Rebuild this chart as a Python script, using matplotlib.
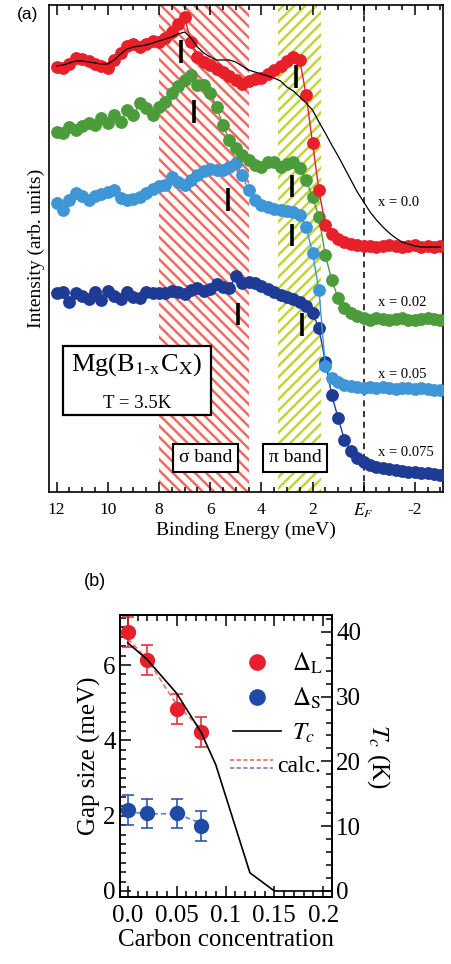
import numpy as np
import matplotlib
matplotlib.use('Agg')
import matplotlib.pyplot as plt
from matplotlib.ticker import MultipleLocator, FixedLocator
from matplotlib.legend_handler import HandlerBase
from matplotlib.lines import Line2D
from matplotlib.patches import Rectangle

plt.rcParams['font.family'] = ['Liberation Serif', 'DejaVu Serif']
plt.rcParams['mathtext.fontset'] = 'stix'
plt.rcParams['hatch.linewidth'] = 1.8
plt.rcParams['axes.unicode_minus'] = False

# ---------------- (a) ARPES spectra ----------------
energy = np.arange(12.0, -3.01, -0.25)   # binding energy grid (meV)

spec_x000 = [42.5, 42.4, 42.8, 43.4, 43.3, 43.1, 42.8, 42.6, 42.4, 43.2,
             43.9, 44.6, 44.8, 44.5, 44.8, 45.1, 45.0, 45.4, 46.0, 46.8,
             47.5, 45.0, 43.5, 43.0, 42.7, 42.3, 42.0, 41.6, 41.2, 40.8,
             41.1, 41.3, 41.4, 41.8, 42.2, 42.6, 43.1, 43.5, 43.2, 39.7,
             34.9, 30.2, 26.7, 25.8, 25.3, 25.0, 24.8, 24.7, 24.6, 24.6,
             24.5, 24.6, 24.7, 24.6, 24.5, 24.6, 24.7, 24.5, 24.6, 24.5,
             24.6]
spec_ref = [42.6, 42.7, 42.9, 43.1, 43.1, 43.0, 42.9, 42.8, 42.8, 43.2,
            43.8, 44.3, 44.5, 44.6, 44.7, 44.9, 45.1, 45.3, 45.5, 45.8,
            46.0, 45.4, 44.5, 43.9, 43.5, 43.2, 43.2, 43.2, 43.0, 42.6,
            42.2, 42.0, 41.8, 41.6, 41.4, 41.1, 40.5, 40.1, 39.5, 38.9,
            38.2, 37.0, 35.9, 34.7, 33.6, 32.4, 31.2, 30.0, 29.0, 28.0,
            27.2, 26.5, 25.9, 25.4, 25.0, 24.8, 24.6, 24.5, 24.5, 24.5,
            24.5]
spec_x002 = [36.0, 35.9, 36.5, 36.2, 36.6, 36.9, 36.7, 37.4, 36.9, 37.7,
             37.0, 38.2, 37.7, 38.9, 38.4, 37.7, 38.5, 39.0, 39.9, 40.6,
             41.2, 41.7, 40.7, 40.7, 39.9, 38.5, 36.7, 35.2, 34.4, 33.7,
             33.2, 32.7, 32.5, 33.0, 33.0, 32.5, 32.8, 33.0, 32.4, 31.2,
             29.5, 27.5, 23.7, 21.2, 19.4, 18.4, 17.9, 17.6, 17.4, 17.2,
             17.4, 17.3, 17.2, 17.3, 17.4, 17.2, 17.2, 17.3, 17.4, 17.3,
             17.2]
spec_x005 = [28.9, 28.2, 29.2, 29.9, 29.6, 29.2, 29.6, 29.8, 30.0, 30.2,
             29.4, 29.2, 29.3, 29.5, 29.9, 30.3, 30.6, 30.7, 31.5, 31.0,
             30.7, 31.2, 31.7, 32.1, 32.3, 32.2, 32.2, 32.5, 32.9, 31.7,
             30.2, 29.2, 28.7, 28.5, 28.3, 28.2, 28.1, 28.0, 27.7, 26.5,
             23.9, 20.2, 12.6, 11.4, 11.0, 10.7, 10.6, 10.5, 10.4, 10.5,
             10.4, 10.5, 10.4, 10.3, 10.4, 10.4, 10.3, 10.4, 10.3, 10.2,
             10.2]
spec_x0075 = [19.9, 20.0, 19.0, 19.9, 19.6, 19.3, 20.0, 19.2, 20.1, 19.6,
              19.3, 20.0, 19.5, 19.4, 20.0, 19.9, 19.9, 19.9, 20.1, 20.0,
              19.8, 20.2, 20.4, 20.1, 20.3, 20.8, 20.5, 20.4, 21.6, 20.9,
              21.0, 20.9, 20.6, 20.3, 20.0, 19.7, 19.5, 19.3, 19.0, 18.6,
              17.9, 16.4, 13.0, 9.7, 7.4, 5.2, 4.1, 3.4, 3.0, 2.7,
              2.5, 2.4, 2.3, 2.2, 2.1, 2.0, 2.0, 1.9, 1.9, 1.8,
              1.7]

spec_labels = ['x = 0.0', 'x = 0.02', 'x = 0.05', 'x = 0.075']
spec_colors = ['#e8202a', '#4c9c3c', '#3f96d6', '#1e3c96']
label_y = [28.9, 19.0, 11.8, 4.0]

# peak positions marked with bars (energy, intensity)
sigma_peak_E = [7.15, 6.64, 5.31, 4.92]
sigma_peak_I = [44.05, 38.1, 29.3, 17.8]
pi_peak_E = [2.66, 2.81, 2.81, 2.42]
pi_peak_I = [41.6, 30.6, 25.7, 16.8]

sigma_band = (8.0, 4.5)
pi_band = (3.35, 1.65)

xtick_pos = [12, 10, 8, 6, 4, 2, 0, -2]
xtick_labels = ['12', '10', '8', '6', '4', '2', r'$E_F$', '-2']

# ---------------- (b) gap size vs carbon ----------------
conc = [0.0, 0.02, 0.05, 0.075]
gap_L = [6.88, 6.14, 4.84, 4.23]
gap_L_err = [0.4, 0.4, 0.4, 0.4]
gap_S = [2.14, 2.06, 2.06, 1.72]
gap_S_err = [0.4, 0.38, 0.38, 0.4]
calc_L = [6.7, 6.15, 4.95, 4.3]
calc_S = [2.1, 2.05, 2.05, 1.8]
tc_conc = [0.0, 0.02, 0.05, 0.075, 0.09, 0.125, 0.15, 0.21]
tc_vals = [38.3, 35.7, 30.5, 24.5, 19.5, 2.8, 0.0, 0.0]

red_pt = '#e8202e'
blue_pt = '#1f4aa5'
red_calc = '#e86a6a'
blue_calc = '#6a7fc0'


class CalcHandler(HandlerBase):
    """two short dashed lines (red over blue) for the calc. entry"""
    def create_artists(self, legend, orig_handle, xdescent, ydescent,
                       width, height, fontsize, trans):
        arts = []
        for dy, c in ((0.7, red_calc), (0.2, blue_calc)):
            y = -ydescent + dy * height
            ln = Line2D([-xdescent, -xdescent + width], [y, y], color=c,
                        lw=1.2, ls=(0, (2.5, 1.5)), transform=trans)
            arts.append(ln)
        return arts


fig = plt.figure(figsize=(4.52, 9.64), dpi=100)

# ---- panel (a) ----
ax = fig.add_axes([49 / 452, 1 - 492 / 964, 394 / 452, 487 / 964])
ax.set_xlim(12.3, -3.1)
ax.set_ylim(0, 48.7)

ax.axvspan(*sigma_band, facecolor='none', edgecolor='#ef6a60',
           hatch='\\\\\\', lw=0, zorder=0)
ax.axvspan(*pi_band, facecolor='none', edgecolor='#c2d43c',
           hatch='///', lw=0, zorder=0)
ax.axvline(0, color='k', ls=(0, (4, 3)), lw=1.1, zorder=1)

spectra = [spec_x000, spec_x002, spec_x005, spec_x0075]
for k in range(3, -1, -1):
    ax.plot(energy, spectra[k], '-o', color=spec_colors[k], ms=8.2,
            lw=1.0, mec=spec_colors[k], zorder=3 + (3 - k))
ax.plot(energy, spec_ref, color='k', lw=0.9, zorder=8)

ax.vlines(sigma_peak_E, np.array(sigma_peak_I) - 1.15,
          np.array(sigma_peak_I) + 1.15, color='k', lw=2.6, zorder=9)
ax.vlines(pi_peak_E, np.array(pi_peak_I) - 1.15,
          np.array(pi_peak_I) + 1.15, color='k', lw=2.6, zorder=9)

for lab, yy in zip(spec_labels, label_y):
    ax.text(-0.55, yy, lab, fontsize=10.5, va='center', ha='left', zorder=10)

# sample box
ax.add_patch(Rectangle((5.98, 7.7), 5.78, 6.9, facecolor='white',
                       edgecolor='k', lw=1.6, zorder=10))
ax.text(8.87, 12.7, r'Mg(B$_{\mathrm{1\text{-}x}}$C$_{\mathrm{X}}$)',
        fontsize=19, ha='center', va='center', zorder=11)
ax.text(8.87, 8.9, 'T = 3.5K', fontsize=13.5, ha='center', va='center',
        zorder=11)

box = dict(boxstyle='square,pad=0.3', facecolor='white', edgecolor='k',
           lw=1.5)
ax.text(6.19, 3.4, 'σ band', fontsize=14, ha='center', va='center',
        bbox=box, zorder=11)
ax.text(2.68, 3.4, 'π band', fontsize=14, ha='center', va='center',
        bbox=box, zorder=11)

ax.xaxis.set_major_locator(FixedLocator(xtick_pos))
ax.set_xticklabels(xtick_labels)
ax.xaxis.set_minor_locator(MultipleLocator(0.5))
ax.tick_params(axis='x', which='both', direction='in', top=True,
               labelsize=12.5, pad=7, width=1.1)
ax.tick_params(axis='x', which='major', length=7)
ax.tick_params(axis='x', which='minor', length=3.6)
ax.set_yticks([])
for s in ax.spines.values():
    s.set_linewidth(1.2)
ax.set_xlabel('Binding Energy (meV)', fontsize=14, labelpad=1)
ax.set_ylabel('Intensity (arb. units)', fontsize=14, labelpad=3)

fig.text(28 / 452, 1 - 14 / 964, '(a)', family='Liberation Sans',
         fontsize=12.5, ha='center', va='center')

# ---- panel (b) ----
ax2 = fig.add_axes([120 / 452, 1 - 897 / 964, 212 / 452, 282 / 964])
axr = ax2.twinx()
ax2.set_xlim(-0.008, 0.209)
ax2.set_ylim(-0.16, 7.33)
axr.set_ylim(-0.93, 42.6)

ax2.plot(conc, calc_L, color=red_calc, lw=1.2, ls=(0, (3, 2)), zorder=2)
ax2.plot(conc, calc_S, color=blue_calc, lw=1.2, ls=(0, (3, 2)), zorder=2)
ax2.errorbar(conc, gap_L, yerr=gap_L_err, fmt='o', color=red_pt, ms=10,
             elinewidth=1.1, capsize=4, capthick=1.1, zorder=3)
ax2.errorbar(conc, gap_S, yerr=gap_S_err, fmt='o', color=blue_pt, ms=10,
             elinewidth=1.1, capsize=4, capthick=1.1, zorder=3)
axr.plot(tc_conc, tc_vals, color='k', lw=1.2)

ax2.xaxis.set_major_locator(FixedLocator([0.0, 0.05, 0.1, 0.15, 0.2]))
ax2.set_xticklabels(['0.0', '0.05', '0.1', '0.15', '0.2'])
ax2.xaxis.set_minor_locator(MultipleLocator(0.01))
ax2.yaxis.set_major_locator(MultipleLocator(2))
ax2.yaxis.set_minor_locator(MultipleLocator(0.25))
axr.yaxis.set_major_locator(MultipleLocator(10))
axr.yaxis.set_minor_locator(MultipleLocator(2))
ax2.tick_params(axis='x', which='both', direction='in', top=True,
                labelsize=18, pad=6, width=1.1)
ax2.tick_params(axis='y', which='both', direction='in', right=False,
                labelsize=18, pad=3, width=1.1)
axr.tick_params(axis='y', which='both', direction='in', labelsize=18,
                pad=3, width=1.1)
for a in (ax2, axr):
    a.tick_params(which='major', length=8)
    a.tick_params(which='minor', length=4.5)
    for s in a.spines.values():
        s.set_linewidth(1.2)

ax2.set_xlabel('Carbon concentration', fontsize=18, labelpad=1)
ax2.set_ylabel('Gap size (meV)', fontsize=18, labelpad=2)
axr.set_ylabel(r'$T_c$ (K)', fontsize=18, rotation=270, labelpad=22)

# legend: symbols + Tc, then the calc. entry with its own spacing
handles = [Line2D([], [], marker='o', ls='none', color=red_pt, ms=11),
           Line2D([], [], marker='o', ls='none', color=blue_pt, ms=11),
           Line2D([], [], color='k', lw=1.2)]
labels = [r'$\Delta_\mathrm{L}$', r'$\Delta_\mathrm{S}$', r'$T_c$']
leg = axr.legend(handles, labels, loc='upper left',
                 bbox_to_anchor=(0.535, 0.875), frameon=False, fontsize=18,
                 handlelength=1.9, handletextpad=0.45, labelspacing=0.42,
                 borderpad=0, borderaxespad=0)
axr.add_artist(leg)
axr.legend([object()], ['calc.'], loc='center left',
           bbox_to_anchor=(0.52, 0.465), frameon=False, fontsize=17,
           handlelength=1.8, handletextpad=0.2, borderpad=0, borderaxespad=0,
           handler_map={object: CalcHandler()})

fig.text(95 / 452, 1 - 582 / 964, '(b)', family='Liberation Sans',
         fontsize=13, ha='center', va='center')

fig.savefig('out.png', dpi=100)
